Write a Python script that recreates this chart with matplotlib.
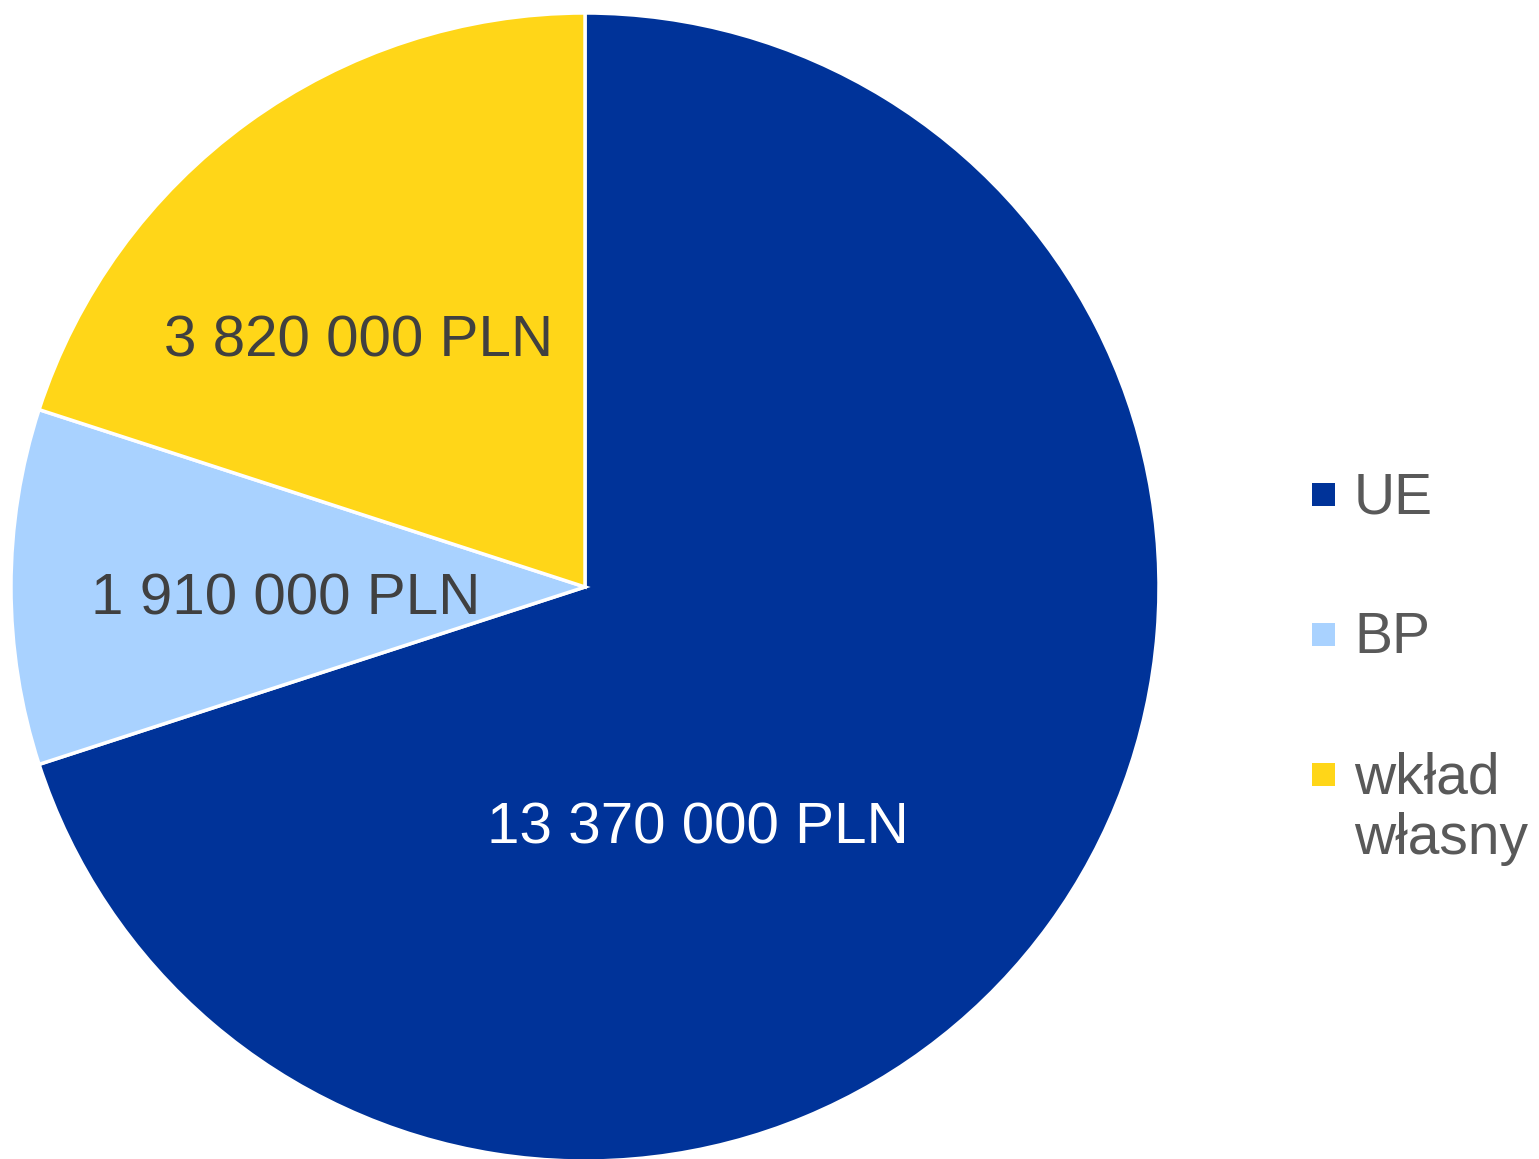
import numpy as np
import matplotlib.pyplot as plt
from matplotlib.patches import Rectangle

plt.rcParams['font.family'] = ['Liberation Sans', 'DejaVu Sans']

categories = ['UE', 'BP', 'wkład\nwłasny']
values = [13370000, 1910000, 3820000]
labels = ['13 370 000 PLN', '1 910 000 PLN', '3 820 000 PLN']
colors = ['#003399', '#A9D2FF', '#FFD618']
label_colors = ['white', '#404040', '#404040']
# label position (radius, angle in degrees) inside each slice
label_pos = [(0.464, -64.9), (0.521, 182.3), (0.581, 132.7)]

W, H = 1539, 1159
fig = plt.figure(figsize=(W / 100, H / 100), dpi=100)
cx, cy, r = 585, 587, 574
ax = fig.add_axes([(cx - r) / W, (H - cy - r) / H, 2 * r / W, 2 * r / H])

wedges, _ = ax.pie(values, colors=colors, startangle=90, counterclock=False,
                   wedgeprops=dict(edgecolor='white', linewidth=2.5))
ax.set_xlim(-1, 1)
ax.set_ylim(-1, 1)
ax.set_aspect('equal')

for txt, col, (rr, ang) in zip(labels, label_colors, label_pos):
    a = np.deg2rad(ang)
    ax.text(rr * np.cos(a), rr * np.sin(a), txt, ha='center', va='center',
            fontsize=42, color=col)

# legend drawn by hand: square + text, first line aligned with the square
sq = 23
for i, (cat, c) in enumerate(zip(categories, colors)):
    yc = 494 + 140 * i
    fig.patches.append(Rectangle((1312 / W, (H - yc - sq / 2) / H), sq / W, sq / H,
                                 transform=fig.transFigure, facecolor=c, edgecolor='none'))
    fig.text(1354 / W, (H - yc + 23) / H, cat, ha='left', va='top', fontsize=41,
             color='#595959', linespacing=1.17)

plt.savefig('out.png', dpi=100)
